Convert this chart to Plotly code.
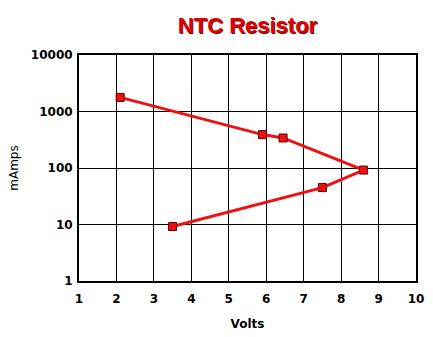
import plotly.graph_objects as go

volts = [2.1, 5.9, 6.45, 8.6, 7.5, 3.5]
mamps = [1780, 390, 340, 92, 45, 9.2]
x_ticks = [1, 2, 3, 4, 5, 6, 7, 8, 9, 10]
y_ticks = [1, 10, 100, 1000, 10000]

fig = go.Figure()
fig.add_trace(go.Scatter(
    x=volts, y=mamps, mode="lines+markers",
    line=dict(color="#ee1111", width=3),
    marker=dict(symbol="square", size=8, color="#ee1111",
                line=dict(color="#550000", width=1)),
))

font_title = "Liberation Sans, Arial, sans-serif"
font_tick = "DejaVu Sans, sans-serif"
fig.update_layout(
    width=433, height=337,
    margin=dict(l=79, r=17, t=55, b=56),
    paper_bgcolor="white", plot_bgcolor="white",
    showlegend=False,
    title=dict(text="<b>NTC Resistor</b>", x=0.5, xref="paper", xanchor="center",
               y=0.926, yanchor="middle",
               font=dict(family=font_title, size=22, color="#e00000",
                         shadow="1px 1px 0px #700000")),
    xaxis=dict(range=[1, 10], tickvals=x_ticks, ticktext=[f"<b>{v}</b>" for v in x_ticks],
               showgrid=True, gridcolor="black", gridwidth=1,
               showline=True, linecolor="black", linewidth=2, mirror=True,
               zeroline=False, ticks="", ticklabelstandoff=6, automargin=False,
               tickfont=dict(family=font_tick, size=12, color="black"),
               title=dict(text="<b>Volts</b>", font=dict(family=font_tick, size=12, color="black"), standoff=14)),
    yaxis=dict(type="log", range=[0, 4], tickvals=y_ticks, ticktext=[f"<b>{v}</b>" for v in y_ticks],
               showgrid=True, gridcolor="black", gridwidth=1,
               showline=True, linecolor="black", linewidth=2, mirror=True,
               zeroline=False, ticks="", ticklabelstandoff=2, automargin=False,
               tickfont=dict(family=font_tick, size=12, color="black"),
               title=dict(text="mAmps", font=dict(family=font_tick, size=12, color="black"), standoff=10)),
)
fig.write_html("out.html")
